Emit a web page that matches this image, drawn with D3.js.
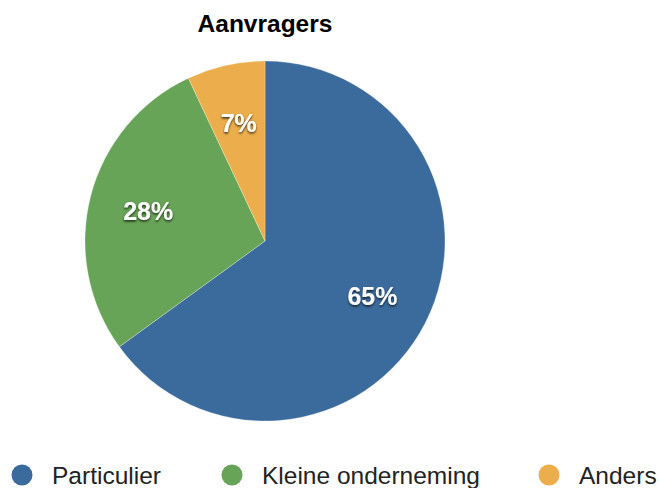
<!DOCTYPE html>
<html>
<head>
<meta charset="utf-8">
<script src="https://cdn.jsdelivr.net/npm/d3@7"></script>
<style>
  body { margin: 0; background: #fff; }
  svg text { font-family: "Liberation Sans", Arial, sans-serif; }
</style>
</head>
<body>
<div id="chart"></div>
<script>
var categories = ["Particulier", "Kleine onderneming", "Anders"];
var values = [65, 28, 7];
var colors = ["#3b6b9c", "#68a457", "#ecae4c"];

var width = 659;
var height = 488;
var radius = 180;
var cx = 265, cy = 241;

var svg = d3.select("#chart").append("svg")
  .attr("width", width).attr("height", height);

// soft shadow behind the slice labels
var defs = svg.append("defs");
var f = defs.append("filter").attr("id", "shadow")
  .attr("x", "-20%").attr("y", "-20%").attr("width", "140%").attr("height", "140%");
f.append("feDropShadow").attr("dx", 0).attr("dy", 1.5).attr("stdDeviation", 1.2)
  .attr("flood-color", "#000").attr("flood-opacity", 0.75);

svg.append("text")
  .attr("x", cx).attr("y", 32)
  .attr("text-anchor", "middle")
  .attr("font-size", 24.5).attr("font-weight", "bold")
  .attr("fill", "#000")
  .text("Aanvragers");

var color = d3.scaleOrdinal().domain(categories).range(colors);

var pie = d3.pie().value(function(d){ return d.value; }).sort(null);
var arc = d3.arc().innerRadius(0).outerRadius(radius);
var labelArc = d3.arc().innerRadius(radius * 0.67).outerRadius(radius * 0.67);

var data = categories.map(function(c, i){ return { name: c, value: values[i] }; });
var total = d3.sum(values);

var g = svg.append("g").attr("transform", "translate(" + cx + "," + cy + ")");

g.selectAll("path")
  .data(pie(data))
  .enter().append("path")
    .attr("d", arc)
    .attr("fill", function(d){ return color(d.data.name); })
    .attr("stroke", "rgba(255,255,255,0.35)")
    .attr("stroke-width", 0.8);

g.selectAll("text.pct")
  .data(pie(data))
  .enter().append("text")
    .attr("class", "pct")
    .attr("transform", function(d){ return "translate(" + labelArc.centroid(d) + ")"; })
    .attr("text-anchor", "middle")
    .attr("dy", "0.36em")
    .attr("font-size", 25)
    .attr("font-weight", "bold")
    .attr("fill", "#fff")
    .attr("filter", "url(#shadow)")
    .text(function(d){ return Math.round(d.data.value / total * 100) + "%"; });

// legend
var legendX = [22, 232, 549];
var legend = svg.append("g").selectAll("g")
  .data(data)
  .enter().append("g")
    .attr("transform", function(d, i){ return "translate(" + legendX[i] + ",475)"; });

legend.append("circle")
  .attr("r", 10.5)
  .attr("fill", function(d){ return color(d.name); });

legend.append("text")
  .attr("x", 30)
  .attr("dy", "0.36em")
  .attr("font-size", 24.5)
  .attr("fill", "#222")
  .text(function(d){ return d.name; });
</script>
</body>
</html>
